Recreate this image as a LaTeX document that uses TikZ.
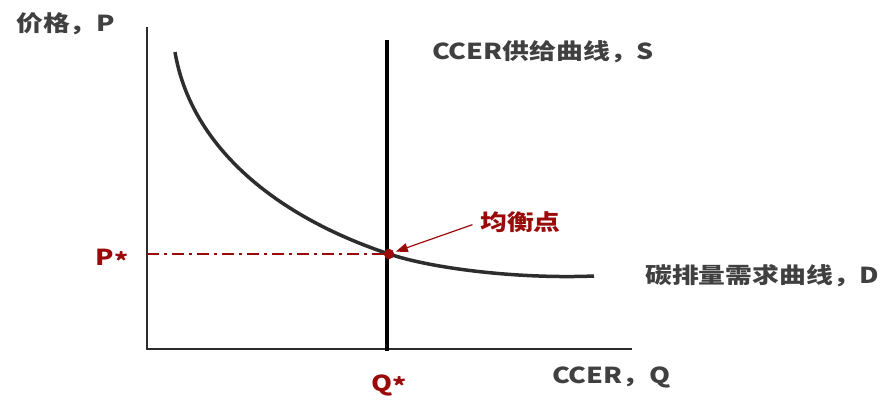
\documentclass[tikz,border=0pt]{standalone}
\usepackage{fontspec}
\setmainfont{Noto Sans CJK SC}[FakeStretch=1.22]
\usepackage{tikz}
\usetikzlibrary{arrows.meta,positioning}
\definecolor{mkgrey}{RGB}{64,64,64}
\definecolor{mkdark}{RGB}{45,45,45}
\definecolor{mkred}{RGB}{155,10,10}
\newcommand{\lowstar}{\raisebox{-0.18em}{*}}

\begin{document}
\begin{tikzpicture}[x=1pt,y=-1pt,
  lbl/.style={font=\fontsize{22}{25}\selectfont\bfseries,text=mkgrey,inner sep=0pt},
  rlbl/.style={lbl,text=mkred},
  eqdot/.style={circle,fill=mkred,minimum size=10pt,inner sep=0pt},
  axis/.style={line width=1.4pt,color=mkdark}]
\useasboundingbox (0,0) rectangle (890,400);
% axes
\coordinate (o) at (147,349); \coordinate (ytop) at (147,27); \coordinate (xend) at (632,349);
\draw[axis] (ytop) -- (o) -- (xend);
% supply and demand
\coordinate (stop) at (387,40); \coordinate (sbot) at (387,351);
\draw[line width=4pt,color=black] (stop) -- (sbot);
\node[eqdot] (pt) at (389,254) {};
\draw[line width=3.5pt,color=mkdark] (175,52) .. controls (190,142) and (269,214) .. (pt.center)
  .. controls (434,269) and (520,279) .. (594,276);
\coordinate (pax) at (147,254);
\draw[line width=1.2pt,color=mkred,dash pattern=on 12pt off 5pt on 3pt off 5pt] (pax) -- (pt);
\node[eqdot] at (pt) {};
% labels
\node[lbl,anchor=west] (ylab) at (16,24) {价格，P};
\node[lbl,anchor=west] (slab) at (432,52) {CCER供给曲线，S};
\node[lbl,anchor=west] (dlab) at (645,276) {碳排量需求曲线，D};
\node[lbl,anchor=west] (xlab) at (552,377) {CCER，Q};
\node[rlbl,anchor=west] (eq) at (480,222) {均衡点};
\node[rlbl] (pstar) at (112,259) {P\lowstar};
\node[rlbl] (qstar) at (389,385) {Q\lowstar};
\draw[line width=1.2pt,color=mkred,-{Triangle[length=12pt,width=9pt]},shorten <=8pt,shorten >=2pt] (eq.west) -- (pt);
\end{tikzpicture}
\end{document}
